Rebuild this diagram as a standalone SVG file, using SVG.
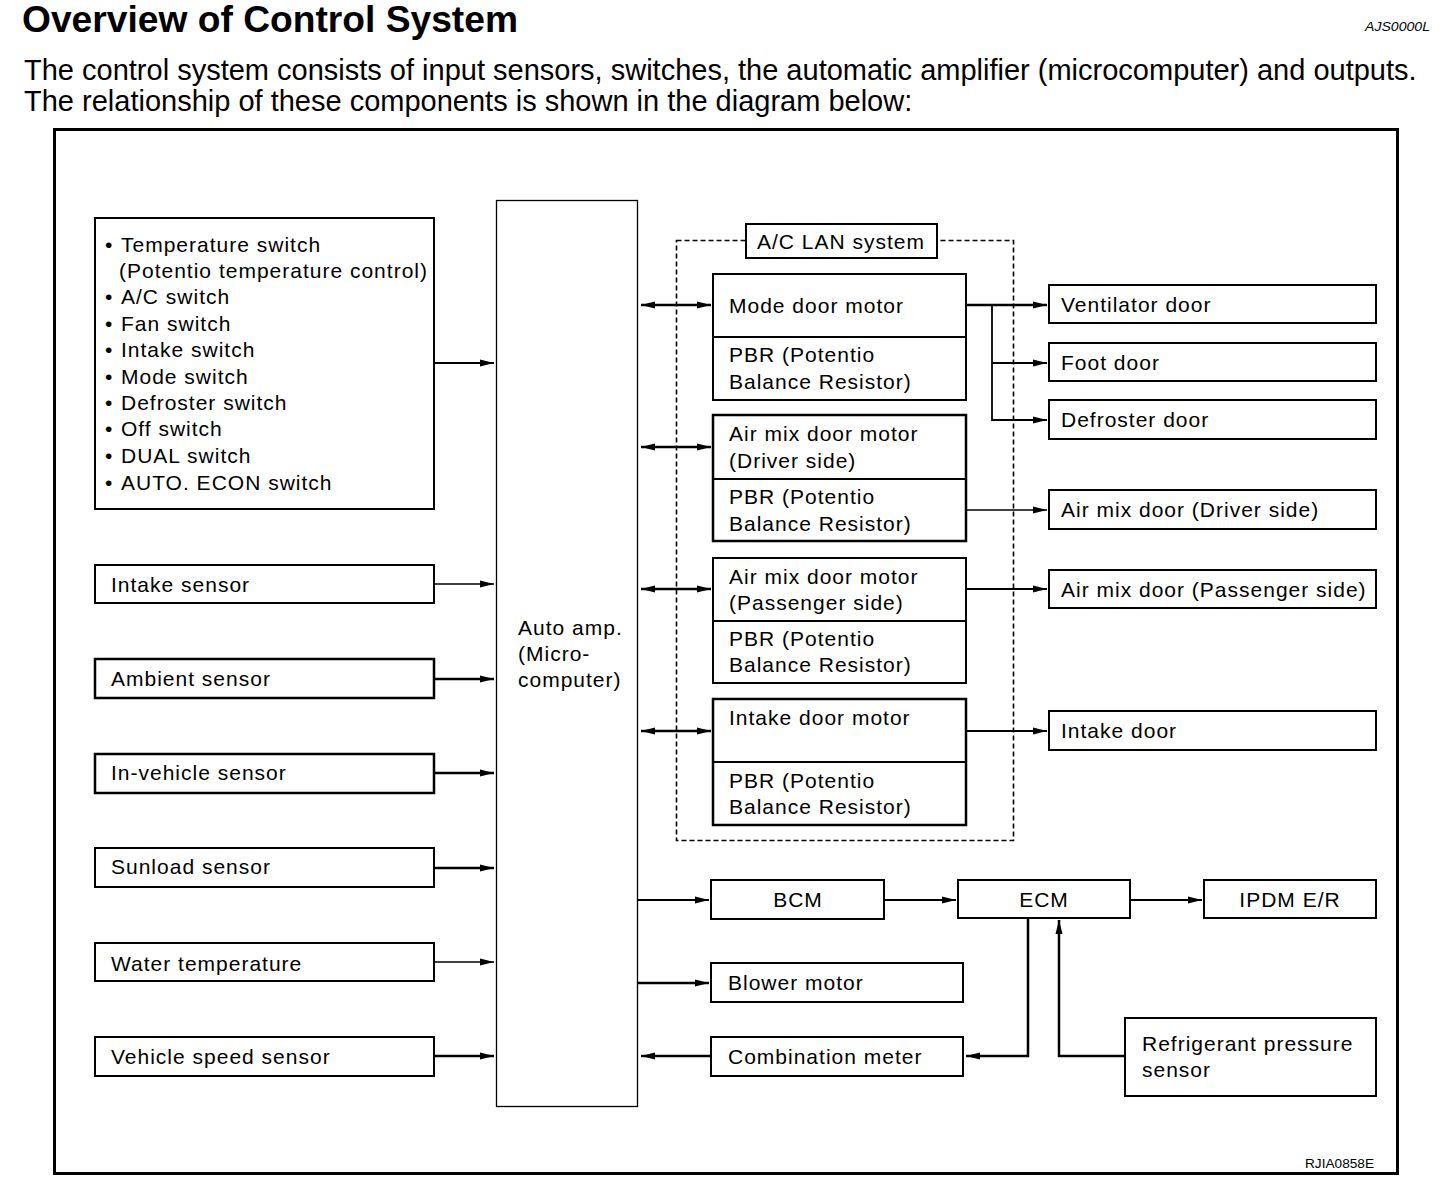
<svg xmlns="http://www.w3.org/2000/svg" width="1456" height="1188" viewBox="0 0 1456 1188">
<defs>
<style>
.t{font-family:"Liberation Sans",Arial,sans-serif;font-size:21px;letter-spacing:1px;fill:#000}
.box{fill:#fff;stroke:#000;stroke-width:2}
.bx{fill:#fff;stroke:#000;stroke-width:2.5}
.c{fill:none;stroke:#000;stroke-width:2.5}
.cn{fill:none;stroke:#000;stroke-width:1.3}
.cm{fill:none;stroke:#000;stroke-width:1.8}
</style>
<marker id="ah" markerWidth="14" markerHeight="8" refX="14" refY="4" orient="auto-start-reverse" markerUnits="userSpaceOnUse"><path d="M0,0.5 L14,4 L0,7.5 z" fill="#000"/></marker>
</defs>
<rect width="1456" height="1188" fill="#fff"/>
<text x="22" y="32" font-family="Liberation Sans,Arial,sans-serif" font-size="37" font-weight="bold" textLength="496" lengthAdjust="spacingAndGlyphs">Overview of Control System</text>
<text x="1365" y="31" font-family="Liberation Sans,Arial,sans-serif" font-size="13" font-style="italic" textLength="65" lengthAdjust="spacingAndGlyphs">AJS0000L</text>
<text x="24" y="80" font-family="Liberation Sans,Arial,sans-serif" font-size="29">The control system consists of input sensors, switches, the automatic amplifier (microcomputer) and outputs.</text>
<text x="24" y="111" font-family="Liberation Sans,Arial,sans-serif" font-size="29">The relationship of these components is shown in the diagram below:</text>
<rect x="54.5" y="129.5" width="1343" height="1044" fill="none" stroke="#000" stroke-width="3"/>
<text x="1305" y="1168" font-family="Liberation Sans,Arial,sans-serif" font-size="13" textLength="69" lengthAdjust="spacingAndGlyphs">RJIA0858E</text>

<g id="lan-system">
<rect x="676.5" y="240.5" width="337" height="600" fill="none" stroke="#000" stroke-width="1.6" stroke-dasharray="5,3"/>
<rect x="746" y="224" width="191" height="34" class="box"/>
<text x="841" y="249" class="t" text-anchor="middle">A/C LAN system</text>
</g>

<g id="connectors">
<path class="cm" d="M434,363 H494" marker-end="url(#ah)"/>
<path class="cn" d="M434,584 H494" marker-end="url(#ah)"/>
<path class="c" d="M434,679 H494" marker-end="url(#ah)"/>
<path class="c" d="M434,773 H494" marker-end="url(#ah)"/>
<path class="c" d="M434,868 H494" marker-end="url(#ah)"/>
<path class="cn" d="M434,962 H494" marker-end="url(#ah)"/>
<path class="c" d="M434,1056 H494" marker-end="url(#ah)"/>
<path class="c" d="M641,305 H711" marker-start="url(#ah)" marker-end="url(#ah)"/>
<path class="c" d="M641,447 H711" marker-start="url(#ah)" marker-end="url(#ah)"/>
<path class="c" d="M641,589 H711" marker-start="url(#ah)" marker-end="url(#ah)"/>
<path class="c" d="M641,731 H711" marker-start="url(#ah)" marker-end="url(#ah)"/>
<path class="c" d="M966,305 H1047" marker-end="url(#ah)"/>
<path class="cm" d="M992,305 V420 H1047" marker-end="url(#ah)"/>
<path class="cm" d="M992,363 H1047" marker-end="url(#ah)"/>
<path class="cn" d="M966,510 H1047" marker-end="url(#ah)"/>
<path class="cm" d="M966,589 H1047" marker-end="url(#ah)"/>
<path class="cm" d="M966,731 H1047" marker-end="url(#ah)"/>
<path class="cm" d="M638,900 H709" marker-end="url(#ah)"/>
<path class="cm" d="M884,900 H956" marker-end="url(#ah)"/>
<path class="cm" d="M1130,900 H1202" marker-end="url(#ah)"/>
<path class="c" d="M638,983 H709" marker-end="url(#ah)"/>
<path class="c" d="M711,1056 H641" marker-end="url(#ah)"/>
<path class="c" d="M1028,918 V1056 H966" marker-end="url(#ah)"/>
<path class="c" d="M1125,1056 H1059 V920" marker-end="url(#ah)"/>
</g>

<g id="switches">
<rect x="95" y="218" width="339" height="291" class="box"/>
<text class="t"><tspan x="105" y="252">•</tspan><tspan x="121" y="252">Temperature switch</tspan>
<tspan x="119" y="278">(Potentio temperature control)</tspan>
<tspan x="105" y="304">•</tspan><tspan x="121" y="304">A/C switch</tspan>
<tspan x="105" y="331">•</tspan><tspan x="121" y="331">Fan switch</tspan>
<tspan x="105" y="357">•</tspan><tspan x="121" y="357">Intake switch</tspan>
<tspan x="105" y="384">•</tspan><tspan x="121" y="384">Mode switch</tspan>
<tspan x="105" y="410">•</tspan><tspan x="121" y="410">Defroster switch</tspan>
<tspan x="105" y="436">•</tspan><tspan x="121" y="436">Off switch</tspan>
<tspan x="105" y="463">•</tspan><tspan x="121" y="463">DUAL switch</tspan>
<tspan x="105" y="490">•</tspan><tspan x="121" y="490">AUTO. ECON switch</tspan></text>
</g>
<g id="intake-sensor"><rect x="95" y="565" width="339" height="38" class="box"/><text x="111" y="592" class="t">Intake sensor</text></g>
<g id="ambient-sensor"><rect x="95" y="659" width="339" height="39" class="bx"/><text x="111" y="686" class="t">Ambient sensor</text></g>
<g id="in-vehicle-sensor"><rect x="95" y="754" width="339" height="39" class="bx"/><text x="111" y="780" class="t">In-vehicle sensor</text></g>
<g id="sunload-sensor"><rect x="95" y="848" width="339" height="39" class="box"/><text x="111" y="874" class="t">Sunload sensor</text></g>
<g id="water-temperature"><rect x="95" y="943" width="339" height="38" class="box"/><text x="111" y="971" class="t">Water temperature</text></g>
<g id="vehicle-speed-sensor"><rect x="95" y="1037" width="339" height="39" class="box"/><text x="111" y="1064" class="t">Vehicle speed sensor</text></g>

<g id="auto-amp">
<rect x="496.5" y="200.5" width="141" height="906" fill="#fff" stroke="#000" stroke-width="1.3"/>
<text class="t"><tspan x="518" y="635">Auto amp.</tspan><tspan x="518" y="661">(Micro-</tspan><tspan x="518" y="687">computer)</tspan></text>
</g>

<g id="mode-door-motor">
<rect x="713" y="274" width="253" height="126" class="box"/>
<line x1="713" y1="337" x2="966" y2="337" stroke="#000" stroke-width="2"/>
<text x="729" y="313" class="t">Mode door motor</text>
<text class="t"><tspan x="729" y="362">PBR (Potentio</tspan><tspan x="729" y="389">Balance Resistor)</tspan></text>
</g>
<g id="air-mix-driver-motor">
<rect x="713" y="415" width="253" height="126" class="bx"/>
<line x1="713" y1="479" x2="966" y2="479" stroke="#000" stroke-width="2"/>
<text class="t"><tspan x="729" y="441">Air mix door motor</tspan><tspan x="729" y="468">(Driver side)</tspan></text>
<text class="t"><tspan x="729" y="504">PBR (Potentio</tspan><tspan x="729" y="531">Balance Resistor)</tspan></text>
</g>
<g id="air-mix-passenger-motor">
<rect x="713" y="558" width="253" height="125" class="box"/>
<line x1="713" y1="621" x2="966" y2="621" stroke="#000" stroke-width="2"/>
<text class="t"><tspan x="729" y="584">Air mix door motor</tspan><tspan x="729" y="610">(Passenger side)</tspan></text>
<text class="t"><tspan x="729" y="646">PBR (Potentio</tspan><tspan x="729" y="672">Balance Resistor)</tspan></text>
</g>
<g id="intake-door-motor">
<rect x="713" y="699" width="253" height="126" class="bx"/>
<line x1="713" y1="762" x2="966" y2="762" stroke="#000" stroke-width="2"/>
<text x="729" y="725" class="t">Intake door motor</text>
<text class="t"><tspan x="729" y="788">PBR (Potentio</tspan><tspan x="729" y="814">Balance Resistor)</tspan></text>
</g>

<g id="ventilator-door"><rect x="1049" y="285" width="327" height="38" class="box"/><text x="1061" y="312" class="t">Ventilator door</text></g>
<g id="foot-door"><rect x="1049" y="343" width="327" height="38" class="box"/><text x="1061" y="370" class="t">Foot door</text></g>
<g id="defroster-door"><rect x="1049" y="400" width="327" height="39" class="box"/><text x="1061" y="427" class="t">Defroster door</text></g>
<g id="air-mix-door-driver"><rect x="1049" y="490" width="327" height="39" class="box"/><text x="1061" y="517" class="t">Air mix door (Driver side)</text></g>
<g id="air-mix-door-passenger"><rect x="1049" y="570" width="327" height="38" class="box"/><text x="1061" y="597" class="t">Air mix door (Passenger side)</text></g>
<g id="intake-door"><rect x="1049" y="711" width="327" height="39" class="box"/><text x="1061" y="738" class="t">Intake door</text></g>

<g id="bcm"><rect x="711" y="880" width="173" height="39" class="box"/><text x="798" y="907" class="t" text-anchor="middle">BCM</text></g>
<g id="ecm"><rect x="958" y="880" width="172" height="38" class="box"/><text x="1044" y="907" class="t" text-anchor="middle">ECM</text></g>
<g id="ipdm"><rect x="1204" y="880" width="172" height="38" class="box"/><text x="1290" y="907" class="t" text-anchor="middle">IPDM E/R</text></g>
<g id="blower-motor"><rect x="711" y="963" width="252" height="39" class="box"/><text x="728" y="990" class="t">Blower motor</text></g>
<g id="combination-meter"><rect x="711" y="1037" width="252" height="39" class="box"/><text x="728" y="1064" class="t">Combination meter</text></g>
<g id="refrigerant-pressure-sensor"><rect x="1125" y="1018" width="251" height="78" class="box"/><text class="t"><tspan x="1142" y="1051">Refrigerant pressure</tspan><tspan x="1142" y="1077">sensor</tspan></text></g>
</svg>
